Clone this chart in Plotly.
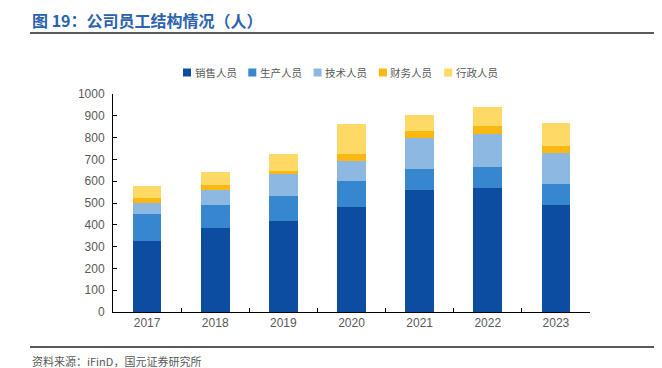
import plotly.graph_objects as go

years = ["2017", "2018", "2019", "2020", "2021", "2022", "2023"]
sales = [325, 386, 417, 481, 560, 567, 490]
production = [124, 107, 116, 119, 95, 98, 97]
tech = [53, 66, 98, 92, 143, 153, 143]
finance = [19, 23, 18, 31, 34, 37, 30]
admin = [56, 60, 74, 138, 71, 84, 107]

series = [
    ("销售人员", sales, "#0C4DA2"),
    ("生产人员", production, "#3787CE"),
    ("技术人员", tech, "#8DB8E2"),
    ("财务人员", finance, "#FBB813"),
    ("行政人员", admin, "#FFD966"),
]

fig = go.Figure()
for name, vals, col in series:
    fig.add_trace(go.Bar(x=years, y=vals, name=name, showlegend=False,
                         marker=dict(color=col, line=dict(width=0))))

# page has an 8px body margin; shift everything by it
OFF = 8
W, H = 662 - OFF, 368 - OFF
L, R, T, B = 113 - OFF, 590 - OFF, 94 - OFF, 312 - OFF
def px(x):
    return (x - OFF - L) / (R - L)
def py(y):
    return (B - (y - OFF)) / (B - T)

fig.update_layout(
    width=W, height=H,
    barmode="stack", bargap=0.58,
    plot_bgcolor="white", paper_bgcolor="white",
    margin=dict(l=L, r=W - R, t=T, b=H - B, autoexpand=False),
    font=dict(family="Liberation Sans, Arial, Noto Sans CJK SC", color="#595959", size=12),
    showlegend=False,
)
fig.update_yaxes(range=[0, 1000], dtick=100, showgrid=False, showline=True, linecolor="#000000",
                 linewidth=1, ticks="inside", ticklen=4, tickcolor="#000000", zeroline=False,
                 ticklabelstandoff=5, tickfont=dict(size=12, color="#595959"))
fig.update_xaxes(showgrid=False, showline=True, linecolor="#000000", linewidth=1,
                 ticks="inside", tickson="boundaries", ticklen=4, tickcolor="#000000",
                 tickfont=dict(size=12, color="#595959"))

# legend (drawn manually to match compact spacing)
leg_x0, leg_step, leg_y, sq = 183, 65.3, 72.5, 8
for i, (name, _, col) in enumerate(series):
    x = leg_x0 + i * leg_step
    fig.add_shape(type="rect", xref="paper", yref="paper",
                  x0=px(x), x1=px(x + sq), y0=py(leg_y - sq / 2), y1=py(leg_y + sq / 2),
                  line=dict(width=0), fillcolor=col)
    fig.add_annotation(text=name, xref="paper", yref="paper", x=px(x + sq + 1.5), y=py(leg_y),
                       xanchor="left", yanchor="middle", showarrow=False,
                       font=dict(size=10.5, color="#595959", family="Noto Sans CJK SC"))

fig.add_annotation(text="<b>图 19：公司员工结构情况（人）</b>", xref="paper", yref="paper",
                   x=px(30), y=py(20), xanchor="left", yanchor="middle", showarrow=False,
                   font=dict(size=16, color="#2B63AE", family="Noto Sans CJK SC"))
fig.add_shape(type="line", xref="paper", yref="paper", x0=px(30), x1=px(662), y0=py(33), y1=py(33),
              line=dict(color="#222222", width=1.5))
fig.add_shape(type="line", xref="paper", yref="paper", x0=px(30), x1=px(662), y0=py(347), y1=py(347),
              line=dict(color="#222222", width=1.5))
fig.add_annotation(text="资料来源：iFinD，国元证券研究所", xref="paper", yref="paper",
                   x=px(30), y=py(361), xanchor="left", yanchor="middle", showarrow=False,
                   font=dict(size=11, color="#595959", family="Noto Sans CJK SC"))

fig.write_html("out.html")
